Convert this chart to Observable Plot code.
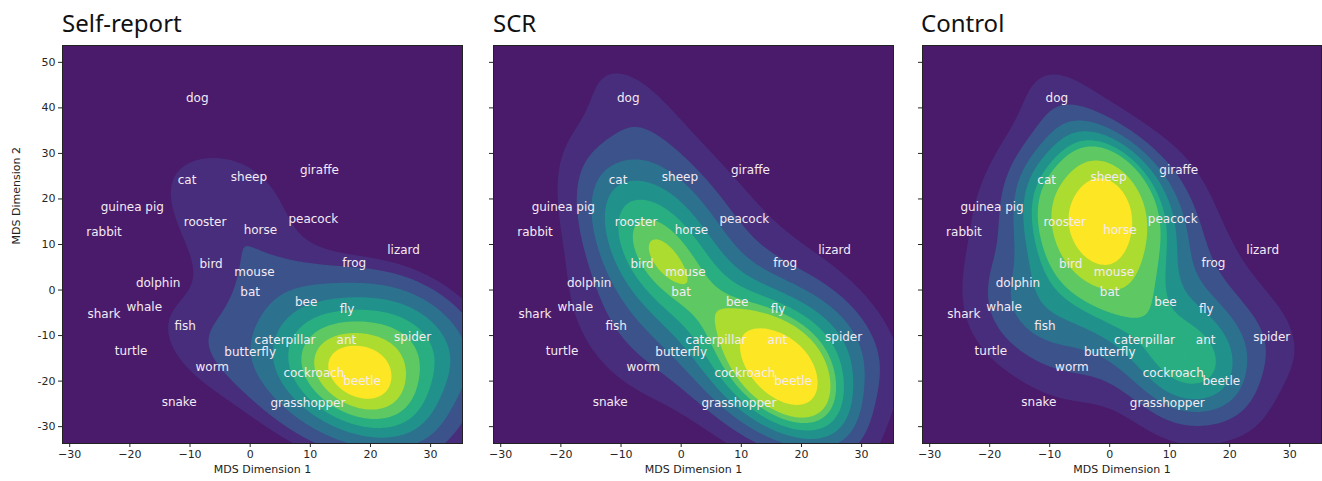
<!DOCTYPE html>
<html>
<head>
<meta charset="utf-8">
<script src="https://cdn.jsdelivr.net/npm/d3@7"></script>
<script src="https://cdn.jsdelivr.net/npm/@observablehq/plot@0.6"></script>
<style>
  html, body { margin: 0; padding: 0; background: #ffffff; }
  #root { position: relative; width: 1322px; height: 481px; overflow: hidden; }
  .title { position: absolute; top: 9px; font-family: "Noto Sans", "Open Sans", sans-serif; font-size: 24px; line-height: 28px; color: #111; }
  .panel { position: absolute; top: 40px; }
</style>
</head>
<body>
<div id="root"></div>
<script>
// ---- data ----
const animals = ["dog","cat","sheep","giraffe","guinea pig","rooster","peacock","horse","rabbit","lizard",
  "frog","bird","mouse","dolphin","bat","bee","whale","fly","shark","fish",
  "caterpillar","ant","spider","turtle","butterfly","worm","cockroach","beetle","snake","grasshopper"];
const dim1 = [-8.8,-10.5,-0.2,11.5,-19.6,-7.5,10.5,1.7,-24.3,25.5,
  17.3,-6.5,0.7,-15.3,0.0,9.3,-17.6,16.1,-24.3,-10.8,
  5.8,16.0,27.0,-19.8,0.0,-6.3,10.6,18.6,-11.8,9.6];
const dim2 = [42.2,24.2,24.8,26.4,18.2,15.0,15.6,13.2,12.7,8.8,
  5.9,5.7,4.0,1.5,-0.4,-2.6,-3.7,-4.2,-5.3,-7.9,
  -11.0,-11.0,-10.3,-13.4,-13.6,-16.9,-18.2,-20.0,-24.6,-24.8];
// density weight of each animal in each panel (estimated from the contours)
const weightSelfReport = [0,0.5,0.7,0,0,0.5,0,0.5,0,0,
  0,0.25,0.25,0,0.25,0.4,0,0.4,0,0.6,
  0.3,1.5,5,0,0.4,0.6,1,10,0,1.2];
const weightSCR = [1.5,1.5,1.5,0.2,0.2,2.5,0.5,1.5,0,0.2,
  0.6,2.7,2.2,0.4,1.5,0.6,0.2,0.6,0,0.8,
  0.6,2.5,3,0.2,0.8,0.8,2,9,0.2,1.5];
const weightControl = [1.5,2,6,0.8,0.8,3.5,1.5,4.5,0.3,0.2,
  0.8,2.5,2,1.2,1.5,1,1,1,0.3,1.5,
  1.2,1.5,1.5,0.5,1,1,2,2.5,0.3,1.2];
const panelTitles = ["Self-report","SCR","Control"];
const xTicks = [-30,-20,-10,0,10,20,30];
const yTicks = [-30,-20,-10,0,10,20,30,40,50];
const xLabel = "MDS Dimension 1";
const yLabel = "MDS Dimension 2";

// ---- chart ----
const xDomain = [-31.2, 35.3];
const yDomain = [-33.7, 53.7];
const bgColor = "#4a1a6b";
const nLevels = 10; // iso-proportion levels 0 .. 1 (like seaborn, thresh = 0)
const bwAdjust = 0.85;
const corrShrink = 0.75;
const bandColors = d3.range(1, nLevels - 1).map(k => d3.interpolateViridis(k / (nLevels - 2)));
const rows = animals.map((name, i) => ({name, d1: dim1[i], d2: dim2[i]}));

function makeKde(weights, adjust) {
  const W = d3.sum(weights);
  const mx = d3.sum(dim1.map((v, i) => v * weights[i])) / W;
  const my = d3.sum(dim2.map((v, i) => v * weights[i])) / W;
  let sxx = 0, syy = 0, sxy = 0;
  for (let i = 0; i < dim1.length; i++) {
    const w = weights[i], dx = dim1[i] - mx, dy = dim2[i] - my;
    sxx += w * dx * dx; syy += w * dy * dy; sxy += w * dx * dy;
  }
  const W2 = d3.sum(weights.map(w => w * w));
  const corr = 1 - W2 / (W * W);
  sxx /= W * corr; syy /= W * corr; sxy /= W * corr;
  sxy *= corrShrink;
  const neff = W * W / W2;
  const f2 = Math.pow(Math.pow(neff, -1 / 6) * adjust, 2);
  const a = sxx * f2, b = sxy * f2, c = syy * f2;
  const det = a * c - b * b;
  const ia = c / det, ib = -b / det, ic = a / det;
  const pts = [];
  for (let i = 0; i < dim1.length; i++) if (weights[i] > 0) pts.push([dim1[i], dim2[i], weights[i]]);
  return (x, y) => {
    let s = 0;
    for (const [px, py, w] of pts) {
      const dx = x - px, dy = y - py;
      s += w * Math.exp(-0.5 * (ia * dx * dx + 2 * ib * dx * dy + ic * dy * dy));
    }
    return s;
  };
}

function isoLevels(fn) {
  const vals = [];
  for (let x = -80; x <= 85; x += 0.75) for (let y = -85; y <= 105; y += 0.75) vals.push(fn(x, y));
  vals.sort((p, q) => q - p);
  const total = d3.sum(vals);
  const props = d3.range(1, nLevels - 1).map(j => j / (nLevels - 1));
  const targets = props.map(p => 1 - p).sort((p, q) => p - q);
  const res = new Array(targets.length);
  let cum = 0, t = 0;
  for (let i = 0; i < vals.length && t < targets.length; i++) {
    cum += vals[i];
    while (t < targets.length && cum / total >= targets[t]) { res[t] = vals[i]; t++; }
  }
  return res.reverse();
}

function panel(k, weights, opts) {
  const fn = makeKde(weights, bwAdjust);
  const levels = isoLevels(fn);
  const mids = levels.slice(1).map((v, i) => (v + levels[i]) / 2);
  const marks = [
    Plot.frame({fill: bgColor, stroke: null}),
    Plot.contour({fill: fn, x1: xDomain[0], x2: xDomain[1], y1: yDomain[0], y2: yDomain[1], thresholds: levels, stroke: "none"}),
    Plot.text(rows, {x: "d1", y: "d2", text: "name", fill: "#f4eaf4", fontSize: 12, fontFamily: "DejaVu Sans"}),
    Plot.axisX(xTicks, {tickSize: 4, tickPadding: 3, label: null, fontSize: 11}),
    Plot.axisY(yTicks, {tickSize: 4, tickPadding: 3, label: null, fontSize: 11, tickFormat: opts.yLabels ? (d => d) : (() => "")}),
    Plot.text([xLabel], {frameAnchor: "bottom", text: d => d, dy: 29, fontSize: 11, fill: "#222"}),
    Plot.frame({stroke: "#222", strokeWidth: 1})
  ];
  if (opts.yLabels) marks.push(Plot.text([yLabel], {frameAnchor: "left", text: d => d, rotate: -90, dx: -46, fontSize: 11, fill: "#222"}));
  const svg = Plot.plot({
    width: opts.width, height: 441,
    marginLeft: opts.ml, marginRight: opts.mr, marginTop: 5, marginBottom: 38,
    style: {fontFamily: "DejaVu Sans, sans-serif", fontSize: "11px", color: "#262626", background: "transparent"},
    x: {domain: xDomain, axis: null},
    y: {domain: yDomain, axis: null},
    color: {type: "threshold", domain: mids, range: bandColors},
    marks
  });
  const div = document.createElement("div");
  div.className = "panel";
  div.style.left = opts.left + "px";
  div.appendChild(svg);
  const t = document.createElement("div");
  t.className = "title";
  t.style.left = opts.titleLeft + "px";
  t.textContent = panelTitles[k];
  const root = document.getElementById("root");
  root.appendChild(div);
  root.appendChild(t);
}

panel(0, weightSelfReport, {left: 0, width: 464, ml: 62, mr: 2, yLabels: true, titleLeft: 62});
panel(1, weightSCR, {left: 473, width: 425, ml: 20, mr: 5, yLabels: false, titleLeft: 493});
panel(2, weightControl, {left: 902, width: 420, ml: 20, mr: 1, yLabels: false, titleLeft: 921});
</script>
</body>
</html>
